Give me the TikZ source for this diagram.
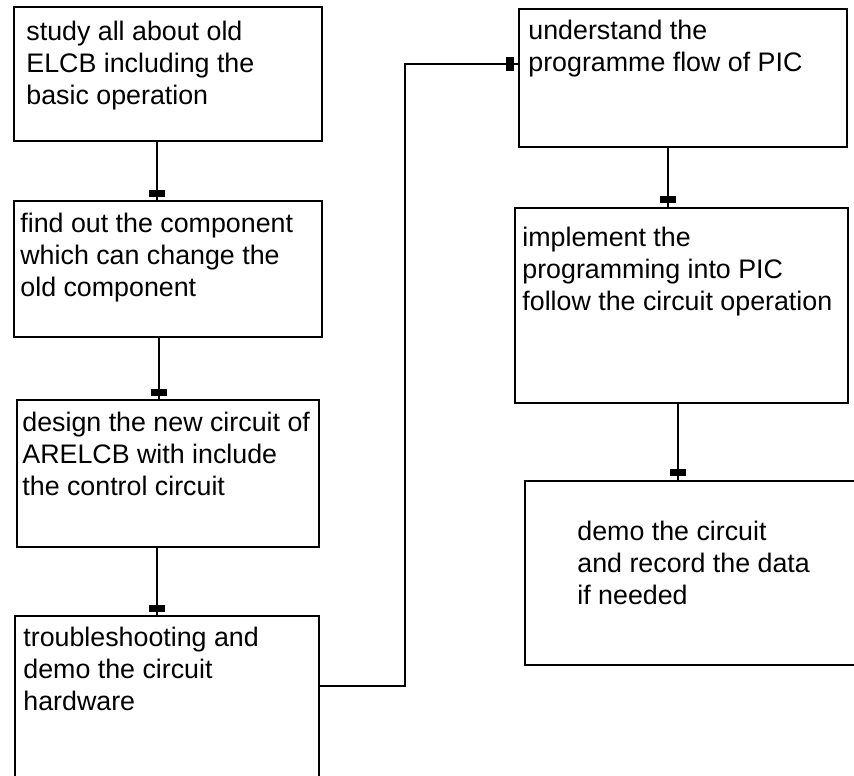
\documentclass[tikz,border=0pt]{standalone}
\usepackage{fontspec}
\setmainfont{Liberation Sans}
\usetikzlibrary{calc}
\begin{document}
\begin{tikzpicture}[x=1pt,y=-1pt,
  box/.style={draw=black, line width=1.6pt, rectangle, inner sep=0pt},
  conn/.style={draw=black, line width=1.6pt},
  txt/.style={inner sep=0pt, anchor=base west, font=\fontsize{26.8}{32.3}\selectfont},
  hbar/.style={fill=black, inner sep=0pt, minimum width=16pt, minimum height=7pt},
  vbar/.style={fill=black, inner sep=0pt, minimum width=8pt, minimum height=14pt}]
\useasboundingbox (0,0) rectangle (854,776);
\clip (0,0) rectangle (854,776);
% boxes
\node[box, minimum width=308pt, minimum height=134pt] (b1) at (168,74) {};
\node[box, minimum width=308pt, minimum height=136pt] (b2) at (168,269) {};
\node[box, minimum width=302pt, minimum height=147pt] (b3) at (168,473.5) {};
\node[box, minimum width=304pt, minimum height=194pt] (b4) at (167,713) {};
\node[box, minimum width=328pt, minimum height=138pt] (b5) at (683,78) {};
\node[box, minimum width=333pt, minimum height=195pt] (b6) at (681.5,305.5) {};
\node[box, minimum width=355pt, minimum height=184pt] (b7) at (702.5,573) {};
% texts
\node[txt] (t1) at ($(b1.north west)+(13,34)$) {\begin{tabular}[t]{@{}l@{}}study all about old\\ELCB including the\\basic operation\end{tabular}};
\node[txt] (t2) at ($(b2.north west)+(7,32)$) {\begin{tabular}[t]{@{}l@{}}find out the component\\which can change the\\old component\end{tabular}};
\node[txt] (t3) at ($(b3.north west)+(6,32)$) {\begin{tabular}[t]{@{}l@{}}design the new circuit of\\ARELCB with include\\the control circuit\end{tabular}};
\node[txt] (t4) at ($(b4.north west)+(9,31)$) {\begin{tabular}[t]{@{}l@{}}troubleshooting and\\demo the circuit\\hardware\end{tabular}};
\node[txt] (t5) at ($(b5.north west)+(10,31)$) {\begin{tabular}[t]{@{}l@{}}understand the\\programme flow of PIC\end{tabular}};
\node[txt] (t6) at ($(b6.north west)+(8,39)$) {\begin{tabular}[t]{@{}l@{}}implement the\\programming into PIC\\follow the circuit operation\end{tabular}};
\node[txt] (t7) at ($(b7.north west)+(53,60)$) {\begin{tabular}[t]{@{}l@{}}demo the circuit\\and record the data\\if needed\end{tabular}};
% connector x / y positions
\coordinate (xa) at (157,0);
\coordinate (xb) at (159,0);
\coordinate (xc) at (157,0);
\coordinate (xd) at (668,0);
\coordinate (xe) at (678,0);
\coordinate (xr) at (405,0);
\coordinate (ya) at (0,686);
\coordinate (yb) at (0,64);
% connectors
\draw[conn] (b1.south -| xa) -- (b2.north -| xa) node[hbar, pos=1, yshift=7pt] {};
\draw[conn] (b2.south -| xb) -- (b3.north -| xb) node[hbar, pos=1, yshift=7pt] {};
\draw[conn] (b3.south -| xc) -- (b4.north -| xc) node[hbar, pos=1, yshift=7pt] {};
\draw[conn] (b5.south -| xd) -- (b6.north -| xd) node[hbar, pos=1, yshift=8pt] {};
\draw[conn] (b6.south -| xe) -- (b7.north -| xe) node[hbar, pos=1, yshift=8pt] {};
\draw[conn] (b4.east |- ya) -- (xr |- ya) -- (xr |- yb) -- (b5.west |- yb) node[vbar, pos=1, xshift=-8pt] {};
\end{tikzpicture}
\end{document}
